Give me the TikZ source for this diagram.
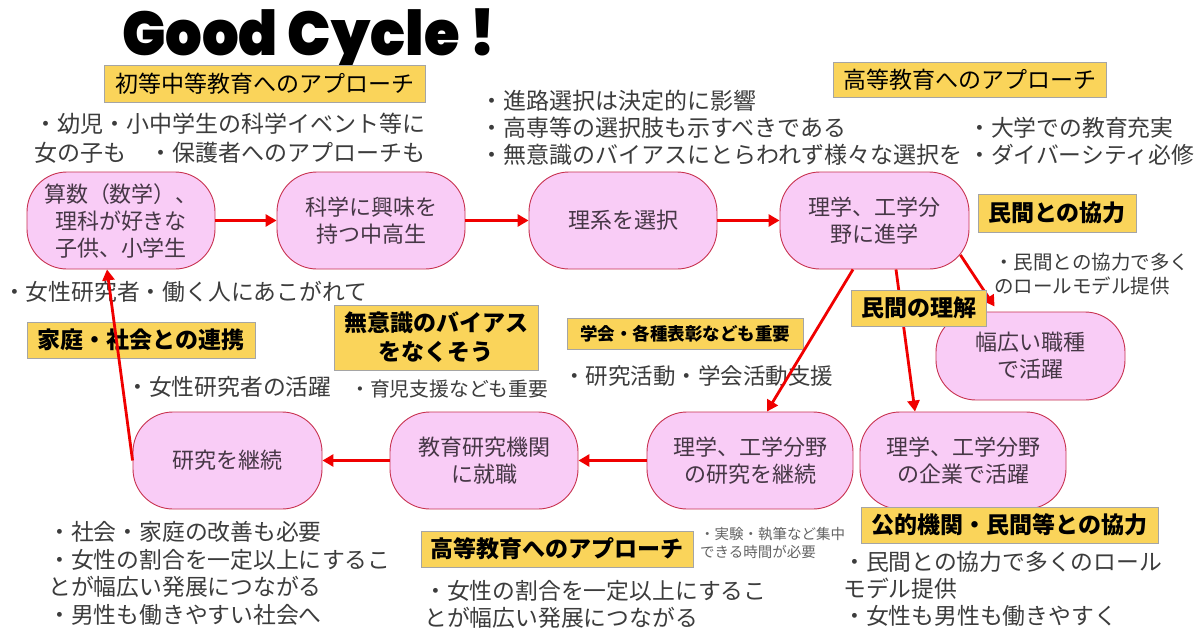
\documentclass[tikz,border=0pt]{standalone}
\usepackage{fontspec}
\setmainfont{Noto Sans CJK JP}
\newfontfamily\titlefont{Poppins Black}
\usetikzlibrary{arrows.meta,calc}
\definecolor{pinkfill}{RGB}{249,204,246}
\definecolor{pinkline}{RGB}{200,50,80}
\definecolor{yel}{RGB}{250,212,90}
\definecolor{yelline}{RGB}{165,165,165}
\definecolor{txtgray}{RGB}{60,60,60}
\definecolor{smallgray}{RGB}{100,100,100}
\definecolor{boxtxt}{RGB}{70,55,70}
\definecolor{arrowred}{RGB}{240,0,0}
\begin{document}
\begin{tikzpicture}[x=1pt,y=-1pt,
  pill/.style={draw=pinkline, line width=0.9pt, fill=pinkfill, rounded corners=40pt,
    minimum height=97pt, text=boxtxt, align=center, font=\fontsize{22}{27}\selectfont, inner sep=0pt},
  tag/.style={draw=yelline, line width=0.8pt, fill=yel, inner sep=0pt, align=center,
    font=\bfseries\fontsize{23}{30}\selectfont},
  tagreg/.style={tag, font=\fontsize{23}{30}\selectfont},
  note/.style={text=txtgray, inner sep=0pt, align=left, anchor=west, font=\fontsize{22.8}{27.5}\selectfont},
  flow/.style={draw=arrowred, line width=2.8pt, -{Triangle[length=11pt,width=12pt]}},
]
\useasboundingbox (0,0) rectangle (1203,629);
\fill[white] (0,0) rectangle (1203,629);

% title
\node[anchor=base west, inner sep=0pt, font=\titlefont\fontsize{62}{70}\selectfont] (title) at (122,55) {\scalebox{0.93}[1]{Good Cycle !}};

% process boxes
\node[pill, minimum width=188pt] (b1) at (121,220.5) {算数（数学）、\\理科が好きな\\子供、小学生};
\node[pill, minimum width=188pt] (b2) at (371,220.5) {科学に興味を\\持つ中高生};
\node[pill, minimum width=188pt] (b3) at (623,220.5) {理系を選択};
\node[pill, minimum width=189pt] (b4) at (874.5,220.5) {理学、工学分\\野に進学};
\node[pill, minimum width=189pt, minimum height=88pt] (b5) at (1030.5,356) {幅広い職種\\で活躍};
\node[pill, minimum width=206pt] (b6) at (963,460.5) {理学、工学分野\\の企業で活躍};
\node[pill, minimum width=206pt] (b7) at (750,460.5) {理学、工学分野\\の研究を継続};
\node[pill, minimum width=188pt] (b8) at (484,460.5) {教育研究機関\\に就職};
\node[pill, minimum width=189pt] (b9) at (227.5,460.5) {研究を継続};

% notes
\node[note, font=\fontsize{23}{29}\selectfont] (t1) at (34,138.5) {・幼児・小中学生の科学イベント等に\\女の子も　・保護者へのアプローチも};
\node[note, font=\fontsize{23}{27}\selectfont] (t2) at (480,128) {・進路選択は決定的に影響\\・高専等の選択肢も示すべきである\\・無意識のバイアスにとらわれず様々な選択を};
\node[note, font=\fontsize{22.8}{27}\selectfont] (t3) at (968,141.5) {・大学での教育充実\\・ダイバーシティ必修};
\node[note] (t4) at (3,292) {・女性研究者・働く人にあこがれて};
\node[note, font=\fontsize{19.5}{24}\selectfont] (t5) at (994,274) {・民間との協力で多く\\のロールモデル提供};
\node[note] (t6) at (126,387) {・女性研究者の活躍};
\node[note, font=\fontsize{19.8}{24}\selectfont] (t7) at (350,389) {・育児支援なども重要};
\node[note, font=\fontsize{22.5}{27.5}\selectfont] (t8) at (563,376) {・研究活動・学会活動支援};
\node[note, font=\fontsize{22.8}{27.7}\selectfont] (t9) at (48,573.5) {・社会・家庭の改善も必要\\・女性の割合を一定以上にするこ\\とが幅広い発展につながる\\・男性も働きやすい社会へ};
\node[note, text=smallgray, font=\fontsize{14.5}{18}\selectfont] (t10) at (700,543) {・実験・執筆など集中\\できる時間が必要};
\node[note, font=\fontsize{22.8}{27}\selectfont] (t11) at (424,604) {・女性の割合を一定以上にするこ\\とが幅広い発展につながる};
\node[note, font=\fontsize{22.8}{27}\selectfont] (t12) at (843,589) {・民間との協力で多くのロール\\モデル提供\\・女性も男性も働きやすく};

% arrow hidden behind label
\draw[flow] ($(b4.south)+(21.5,0)$) -- ($(b6.north)+(-48,0)$);

% labels
\node[tagreg, minimum width=321pt, minimum height=37pt] (y1) at (264.5,83.5) {初等中等教育へのアプローチ};
\node[tagreg, minimum width=273pt, minimum height=35pt] (y2) at (969.5,79.5) {高等教育へのアプローチ};
\node[tag, minimum width=158pt, minimum height=38pt] (y3) at (1057,213) {民間との協力};
\node[tag, minimum width=228pt, minimum height=36pt] (y5) at (141,340) {家庭・社会との連携};
\node[tag, minimum width=204pt, minimum height=65pt, font=\bfseries\fontsize{23}{29}\selectfont] (y6) at (436,337.5) {無意識のバイアス\\をなくそう};
\node[tag, minimum width=236pt, minimum height=31pt, font=\bfseries\fontsize{17.5}{22}\selectfont] (y7) at (685,333.5) {学会・各種表彰なども重要};
\node[tag, minimum width=272pt, minimum height=36pt] (y8) at (557,549) {高等教育へのアプローチ};
\node[tag, minimum width=297pt, minimum height=36pt] (y9) at (1009.5,525) {公的機関・民間等との協力};

% arrows
\draw[flow] (b1.east) -- (b2.west);
\draw[flow] (b2.east) -- (b3.west);
\draw[flow] (b3.east) -- (b4.west);
\draw[flow] ($(b4.south)+(-21.5,0)$) -- ($(b7.north)+(17,0)$);
\draw[flow] ($(b4.east)+(-9,34.5)$) -- ($(b5.north west)+(59,-5)$);
\draw[flow] (b7.west) -- (b8.east);
\draw[flow] (b8.west) -- (b9.east);
\draw[flow] (b9.west) -- ($(b1.south)+(-14,0)$);

\node[tag, minimum width=135pt, minimum height=36pt] (y4) at (918.5,308) {民間の理解};
\end{tikzpicture}
\end{document}
